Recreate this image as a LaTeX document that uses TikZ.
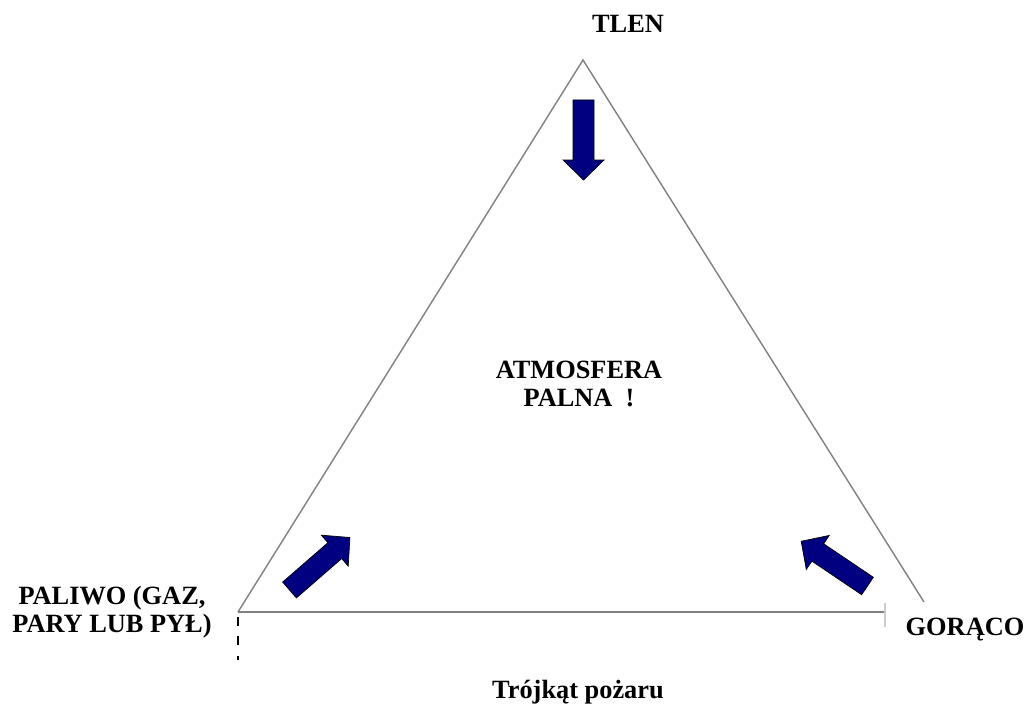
\documentclass[tikz,border=0pt]{standalone}
\usepackage{fontspec}
\setmainfont{Liberation Serif}
\definecolor{granat}{RGB}{0,0,128}
\begin{document}
\begin{tikzpicture}[x=0.02cm,y=-0.02cm,
  bok/.style={gray, line width=0.8pt},
  strzalka/.style={draw=black, line width=0.4pt, fill=granat},
  napis/.style={font=\fontsize{15}{16.3}\selectfont\bfseries, align=center, inner sep=0pt}]
\useasboundingbox (0,0) rectangle (1027,706);
\coordinate (szczyt) at (583,60);
\coordinate (lewy) at (238,612);
\coordinate (prawy) at (924,602);
\coordinate (koniec) at (885,612);
\draw[bok] (lewy)--(szczyt)--(prawy);
\draw[bok] (lewy)--(koniec);
\draw[gray!40, line width=0.6pt] (885,603)--(885,627);
\draw[black, line width=1.2pt, dash pattern=on 5pt off 6pt] (238,617)--(238,660);
\foreach \p/\a in {{(583.5,100)}/-90,{(289.5,590)}/41,{(867.5,586)}/146}
{
    \draw[strzalka, shift={\p}, rotate=\a] (0,-10.5)--(60,-10.5)--(60,-20.5)--(80,0)--(60,20.5)--(60,10.5)--(0,10.5)--cycle;
}
\node[napis] (tlen) at (628,24) {TLEN};
\node[napis] (atmosfera) at (579,384) {ATMOSFERA\\PALNA\ \ !};
\node[napis] (paliwo) at (112,612) {PALIWO (GAZ,\\PARY LUB PYŁ)};
\node[napis] (goraco) at (965,630) {GORĄCO};
\node[napis] (tytul) at (578,692) {Trójkąt pożaru};
\end{tikzpicture}
\end{document}
